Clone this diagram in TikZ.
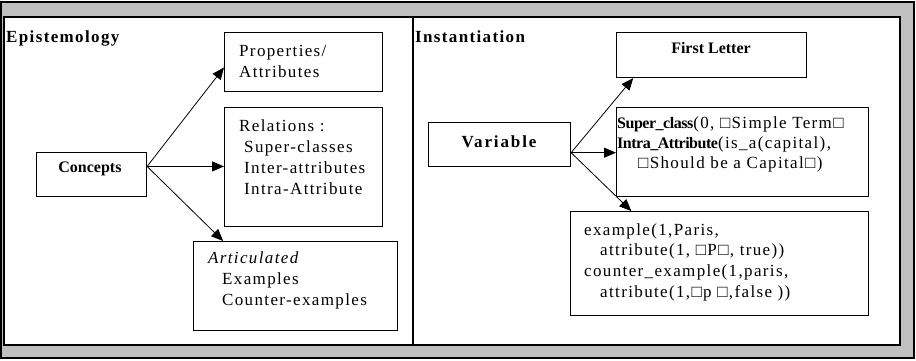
\documentclass[tikz,border=0pt]{standalone}
\usepackage{fontspec}
\setmainfont{Liberation Serif}[LetterSpace=8]
\newfontface\bfnarrow{Liberation Serif Bold}
\newfontface\bfwide{Liberation Serif Bold}[LetterSpace=11]
\newfontface\bfkw{Liberation Serif Bold}[LetterSpace=-3]
\usetikzlibrary{arrows.meta,calc}
\definecolor{framegray}{RGB}{192,192,192}
\newcommand{\lnstrut}{\rule{0pt}{13pt}}
\newcommand{\bx}{□}
\newcommand{\kw}[1]{{\fontsize{16}{20}\bfkw #1}}
\begin{document}
\begin{tikzpicture}[x=1pt,y=-1pt,
  panel/.style={line width=1.1pt},
  box/.style={draw, line width=1.1pt, inner sep=0pt, anchor=north west},
  txt/.style={inner sep=0pt, anchor=north west, align=left,
    font=\fontsize{17}{21}\selectfont},
  head/.style={inner sep=0pt, anchor=base west, font=\fontsize{17}{21}\selectfont\bfseries},
  small/.style={inner sep=0pt, anchor=base, font=\fontsize{16}{19}\bfnarrow},
  arr/.style={line width=0.8pt, -{Triangle[length=12pt,width=10pt]}}]
\useasboundingbox (0,0) rectangle (916,360);
% frame: grey border with white drawing area and divider
\fill[framegray] (1,2) rectangle (914,358);
\draw[panel] (1,2) rectangle (914,358);
\draw[panel, fill=white] (4,17) rectangle (900,345);
\draw[panel] (413,17) -- (413,345);

% section headings
\node[head] (hepi) at (6,42) {Epistemology};
\node[head] (hinst) at (415,42) {Instantiation};

% left panel boxes
\node[box, minimum width=158, minimum height=59] (props) at (224,32) {};
\node[box, minimum width=158, minimum height=119] (rel) at (224,107) {};
\node[box, minimum width=110, minimum height=44] (concepts) at (36,152) {};
\node[box, minimum width=204, minimum height=89] (artic) at (193,241) {};

\node[txt] (tprops) at (239,43) {\lnstrut Properties/\\Attributes};
\node[txt] (trel) at (239,118) {\lnstrut Relations :\\\hspace*{5pt}Super-classes\\\hspace*{5pt}Inter-attributes\\\hspace*{5pt}Intra-Attribute};
\node[small] (tconc) at (90,172) {Concepts};
\node[txt] (tartic) at (208,250) {\lnstrut\textit{Articulated}\\\hspace*{14pt}Examples\\\hspace*{14pt}Counter-examples};

% right panel boxes
\node[box, minimum width=190, minimum height=45] (first) at (616,32) {};
\node[box, minimum width=142, minimum height=44] (variable) at (428,122) {};
\node[box, minimum width=252, minimum height=89] (superb) at (616,107) {};
\node[box, minimum width=298, minimum height=104] (exbox) at (570,211) {};

\node[small] (tfirst) at (711,53) {First Letter};
\node[inner sep=0pt, anchor=base, font=\fontsize{17}{21}\bfwide] (tvar) at (499,147) {Variable};
\node[txt, font=\fontsize{17}{20}\selectfont] (tsuper) at (617,115) {\lnstrut\kw{Super\_class}(0, \bx Simple Term\bx\\\kw{Intra\_Attribute}(is\_a(capital),\\\hspace*{21pt}\bx Should be a Capital\bx)};
\node[txt, font=\fontsize{17}{20.7}\selectfont] (tex) at (584,222) {\lnstrut example(1,Paris,\\\hspace*{16pt}attribute(1, \bx P\bx, true))\\counter\_example(1,paris,\\\hspace*{16pt}attribute(1,\bx p \bx,false ))};

% connectors
\coordinate (cfork) at ($(concepts.north east)!0.32!(concepts.south east)$);
\draw[arr] (cfork) -- ($(props.north west)!0.59!(props.south west)$);
\draw[arr] (cfork) -- (cfork -| rel.west);
\draw[arr] (cfork) -- ($(artic.north west)!0.147!(artic.north east)$);

\coordinate (vfork) at ($(variable.north east)!0.68!(variable.south east)$);
\draw[arr] (vfork) -- ($(first.south west)!0.09!(first.south east)$);
\draw[arr] (vfork) -- (vfork -| superb.west);
\draw[arr] (vfork) -- ($(exbox.north west)!0.205!(exbox.north east)$);
\end{tikzpicture}
\end{document}
